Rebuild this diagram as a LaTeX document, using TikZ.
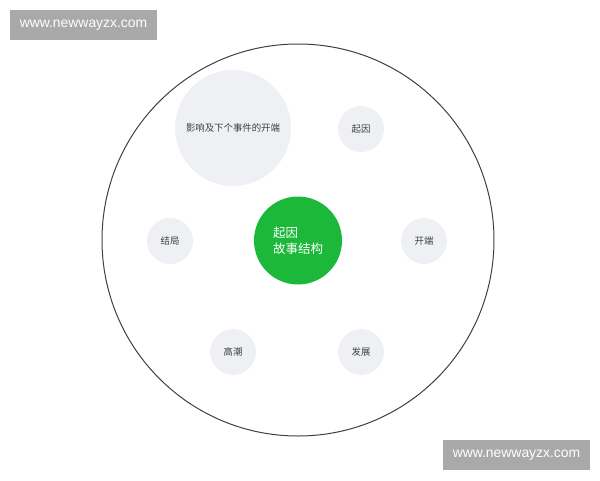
\documentclass[tikz,border=0pt]{standalone}
\usepackage{fontspec}
\usepackage{xcolor}
\usepackage{tikz}
\setmainfont{Liberation Sans}
\newfontfamily\cjk{Noto Sans CJK SC}
\definecolor{bubblegray}{HTML}{EEF0F4}
\definecolor{coregreen}{HTML}{1CB83A}
\definecolor{markgray}{HTML}{A9A9A9}

\begin{document}
\begin{tikzpicture}[x=1pt,y=-1pt,
  bubble/.style={circle,fill=bubblegray,inner sep=0pt,minimum size=46pt,
    text=black!75,font=\cjk\fontsize{9.4}{11}\selectfont},
  wmark/.style={fill=markgray,text=white,inner sep=0pt,
    minimum width=147pt,minimum height=30pt,font=\fontsize{13.9}{15}\selectfont}]
\useasboundingbox (0,0) rectangle (600,480);

% outer ring
\node[circle,draw=black!75,line width=1pt,minimum size=392pt,inner sep=0pt] (ring) at (298,240) {};

% big bubble
\node[bubble,minimum size=116pt] (next) at (233,128) {影响及下个事件的开端};

% centre
\node[circle,fill=coregreen,inner sep=0pt,minimum size=88pt,align=left,
  text=white,font=\cjk\fontsize{12.5}{16}\selectfont] (core) at (298,240.5) {起因\\故事结构};

% small bubbles
\foreach\lbl/\px/\py[count=\i] in{起因/361/129,开端/424/241,发展/361/352,高潮/233/352,结局/170/241}{\node[bubble] (stage\i) at(\px,\py){\lbl};};

% watermarks
\node[wmark] (markA) at (83.5,25) {www.newwayzx.com};
\node[wmark] (markB) at (516.5,455) {www.newwayzx.com};
\end{tikzpicture}
\end{document}
